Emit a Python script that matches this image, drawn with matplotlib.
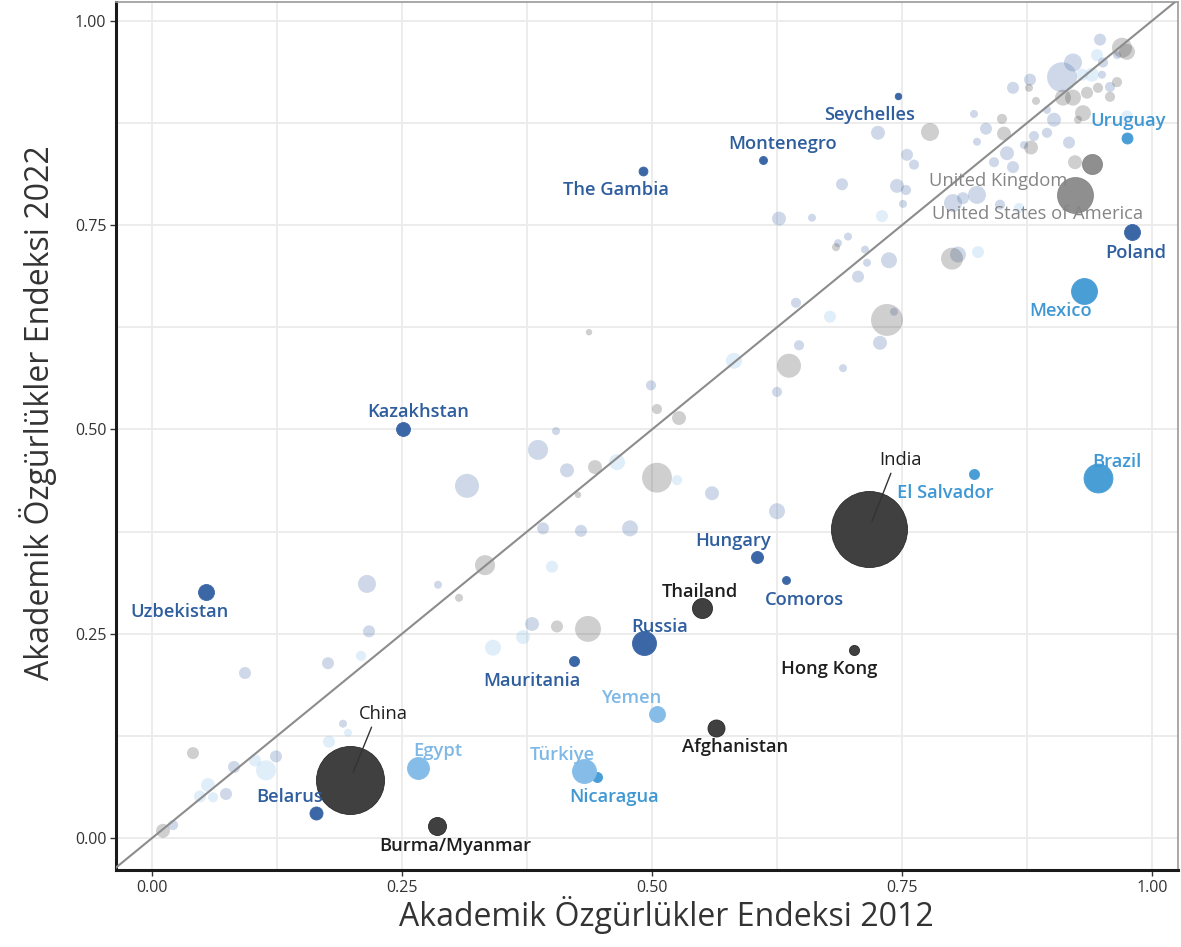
import matplotlib
matplotlib.use("Agg")
import matplotlib.pyplot as plt
import numpy as np

plt.rcParams['font.family'] = ['Open Sans', 'DejaVu Sans']

# ---------------- data ----------------
# highlighted countries: name, index 2012, index 2022, size variable, colour group
hl_names = ["Seychelles", "Montenegro", "The Gambia", "Poland", "Kazakhstan", "Uzbekistan",
            "Hungary", "Comoros", "Russia", "Mauritania", "Belarus",
            "Uruguay", "Mexico", "Brazil", "El Salvador", "Nicaragua",
            "Egypt", "Türkiye", "Yemen",
            "Thailand", "Hong Kong", "Afghanistan", "Burma/Myanmar", "China", "India",
            "United Kingdom", "United States of America"]
hl_x = [0.746, 0.611, 0.491, 0.980, 0.251, 0.054,
        0.605, 0.634, 0.492, 0.422, 0.164,
        0.975, 0.932, 0.946, 0.822, 0.445,
        0.266, 0.432, 0.505,
        0.550, 0.702, 0.564, 0.285, 0.198, 0.717,
        0.940, 0.923]
hl_y = [0.908, 0.830, 0.816, 0.742, 0.501, 0.301,
        0.344, 0.316, 0.239, 0.217, 0.031,
        0.856, 0.670, 0.441, 0.446, 0.075,
        0.086, 0.082, 0.152,
        0.282, 0.230, 0.135, 0.015, 0.071, 0.378,
        0.825, 0.787]
hl_size = [0.5, 6, 10, 56, 40, 56,
           27, 6, 140, 16, 34,
           21, 165, 208, 16, 16,
           115, 140, 56,
           94, 16, 65, 74, 1200, 1500,
           94, 327]
hl_group = ["dblue"] * 11 + ["mblue"] * 5 + ["lblue"] * 3 + ["dgray"] * 6 + ["gray"] * 2

# background (non-highlighted) countries
bg_x = [0.011, 0.021, 0.041, 0.056, 0.048, 0.061, 0.074, 0.082, 0.093, 0.103,
        0.114, 0.124, 0.176, 0.209, 0.215, 0.217, 0.191, 0.196, 0.177, 0.286,
        0.307, 0.333, 0.400, 0.380, 0.371, 0.405, 0.436, 0.341, 0.437, 0.404,
        0.386, 0.415, 0.443, 0.465, 0.315, 0.426, 0.391, 0.429, 0.478, 0.735,
        0.742, 0.678, 0.728, 0.647, 0.637, 0.691, 0.582, 0.625, 0.499, 0.505,
        0.527, 0.505, 0.525, 0.560, 0.625, 0.690, 0.627, 0.660, 0.686, 0.684,
        0.696, 0.644, 0.778, 0.726, 0.755, 0.762, 0.745, 0.754, 0.751, 0.730,
        0.822, 0.834, 0.850, 0.852, 0.879, 0.825, 0.855, 0.842, 0.861, 0.801,
        0.825, 0.811, 0.848, 0.867, 0.713, 0.737, 0.715, 0.706, 0.800, 0.806,
        0.826, 0.861, 0.877, 0.884, 0.878, 0.948, 0.970, 0.975, 0.945, 0.921,
        0.910, 0.951, 0.940, 0.930, 0.950, 0.965, 0.965, 0.958, 0.958, 0.946,
        0.935, 0.921, 0.911, 0.895, 0.931, 0.902, 0.926, 0.882, 0.895, 0.917,
        0.872, 0.923, 0.975]
bg_y = [0.009, 0.016, 0.104, 0.065, 0.051, 0.050, 0.054, 0.087, 0.202, 0.095,
        0.083, 0.100, 0.214, 0.223, 0.311, 0.253, 0.140, 0.129, 0.118, 0.310,
        0.294, 0.334, 0.332, 0.262, 0.246, 0.259, 0.256, 0.233, 0.619, 0.498,
        0.475, 0.450, 0.454, 0.460, 0.431, 0.420, 0.379, 0.376, 0.379, 0.634,
        0.644, 0.638, 0.606, 0.603, 0.578, 0.575, 0.584, 0.546, 0.554, 0.525,
        0.514, 0.441, 0.438, 0.422, 0.400, 0.800, 0.758, 0.759, 0.728, 0.723,
        0.736, 0.655, 0.864, 0.863, 0.836, 0.824, 0.798, 0.793, 0.776, 0.761,
        0.886, 0.868, 0.880, 0.862, 0.845, 0.852, 0.838, 0.827, 0.821, 0.777,
        0.787, 0.783, 0.775, 0.771, 0.720, 0.707, 0.704, 0.687, 0.709, 0.714,
        0.717, 0.918, 0.918, 0.902, 0.928, 0.977, 0.967, 0.962, 0.958, 0.949,
        0.931, 0.949, 0.934, 0.934, 0.934, 0.958, 0.925, 0.919, 0.907, 0.918,
        0.912, 0.906, 0.906, 0.891, 0.887, 0.879, 0.879, 0.859, 0.863, 0.851,
        0.848, 0.827, 0.883]
bg_size = [40, 16, 27, 40, 27, 16, 27, 27, 27, 27,
           94, 27, 27, 16, 74, 27, 6, 6, 27, 6,
           6, 94, 27, 40, 40, 27, 165, 56, 0, 6,
           94, 40, 40, 56, 140, 0, 27, 27, 56, 256,
           6, 27, 40, 16, 140, 6, 56, 16, 16, 16,
           40, 223, 16, 40, 56, 27, 40, 6, 6, 6,
           6, 16, 74, 40, 27, 16, 40, 16, 6, 27,
           6, 27, 16, 40, 40, 6, 40, 16, 27, 74,
           74, 27, 16, 16, 6, 56, 6, 27, 115, 56,
           27, 27, 6, 6, 27, 27, 94, 56, 27, 74,
           223, 16, 40, 27, 6, 6, 16, 16, 16, 16,
           27, 56, 56, 6, 56, 40, 6, 16, 16, 27,
           6, 40, 27]
bg_group = ["g", "b", "g", "l", "l", "l", "b", "b", "b", "l",
            "l", "b", "b", "l", "b", "b", "b", "l", "l", "b",
            "g", "g", "l", "b", "l", "g", "g", "l", "g", "b",
            "b", "b", "g", "l", "b", "g", "b", "b", "b", "g",
            "b", "l", "b", "b", "g", "b", "l", "b", "b", "g",
            "g", "g", "l", "b", "b", "b", "b", "b", "b", "g",
            "b", "b", "g", "b", "b", "b", "b", "b", "b", "l",
            "b", "b", "g", "g", "g", "b", "b", "b", "b", "b",
            "b", "b", "b", "l", "b", "b", "b", "b", "g", "b",
            "l", "b", "g", "g", "b", "b", "g", "g", "l", "b",
            "b", "b", "l", "l", "b", "b", "g", "b", "g", "g",
            "g", "g", "g", "b", "g", "b", "g", "b", "b", "b",
            "b", "g", "l"]

x_ticks = [0.00, 0.25, 0.50, 0.75, 1.00]
x_tick_labels = ["0.00", "0.25", "0.50", "0.75", "1.00"]
x_title = "Akademik Özgürlükler Endeksi 2012"
y_title = "Akademik Özgürlükler Endeksi 2022"

# ---------------- styles ----------------
hl_colors = {"dblue": "#3C67A6", "mblue": "#4A9ED6", "lblue": "#86BDE8",
             "dgray": "#404040", "gray": "#7C7C7C"}
hl_text_colors = {"dblue": "#2F5E9E", "mblue": "#3F98D3", "lblue": "#7DB8E6",
                  "dgray": "#1E1E1E", "gray": "#858585"}
bg_colors = {"b": ("#3C67A6", 0.25), "l": ("#86BDE8", 0.25), "g": ("#404040", 0.25)}

# label offsets in pixels (dx right, dy up) relative to the point
label_offsets = {
    "Seychelles": (-28, -19), "Montenegro": (20, 16), "The Gambia": (-27, -19),
    "Poland": (4, -21), "Kazakhstan": (15, 17), "Uzbekistan": (-26, -20),
    "Hungary": (-24, 16), "Comoros": (18, -20), "Russia": (16, 16),
    "Mauritania": (-42, -20), "Belarus": (-26, 16), "Uruguay": (1, 17),
    "Mexico": (-23, -20), "Brazil": (19, 16), "El Salvador": (-29, -19),
    "Nicaragua": (17, -20), "Egypt": (20, 17), "Türkiye": (-22, 16),
    "Yemen": (-25, 16), "Thailand": (-2, 16), "Hong Kong": (-25, -19),
    "Afghanistan": (19, -19), "Burma/Myanmar": (18, -20), "China": (33, 66),
    "India": (32, 69), "United Kingdom": (-94, -17),
    "United States of America": (-37, -19),
}
regular_labels = ["China", "India", "United Kingdom", "United States of America"]

W, H = 1181, 947
fig = plt.figure(figsize=(W / 100, H / 100), dpi=100)
ax = fig.add_axes([116 / W, 1 - 870 / H, (1178 - 116) / W, (870 - 2) / H])

xmin, xmax = -0.036, 1.026
ymin, ymax = -0.039, 1.023
ax.set_xlim(xmin, xmax)
ax.set_ylim(ymin, ymax)


def size_to_s(v):
    # area-proportional size scale: radius ~3.2 px at 0, ~38 px at 1500
    v = np.asarray(v, dtype=float)
    r2 = 3.2 ** 2 + (38.0 ** 2 - 3.2 ** 2) * v / 1500.0
    r_pt = np.sqrt(r2) * 72 / 100
    return (2 * r_pt) ** 2


# grid
for v in np.arange(0, 1.01, 0.125):
    ax.axvline(v, color="#EBEBEB", lw=1.3, zorder=0)
    ax.axhline(v, color="#EBEBEB", lw=1.3, zorder=0)

# background points
for gk, (c, a) in bg_colors.items():
    idx = [i for i, g in enumerate(bg_group) if g == gk]
    ax.scatter([bg_x[i] for i in idx], [bg_y[i] for i in idx],
               s=size_to_s([bg_size[i] for i in idx]), color=c, alpha=a,
               edgecolors="none", zorder=2)

# diagonal
ax.plot([xmin - 1, xmax + 1], [xmin - 1, xmax + 1], color="#8C8C8C", lw=1.5, zorder=3)

# highlighted points
for i, name in enumerate(hl_names):
    g = hl_group[i]
    c = hl_colors[g]
    alpha = 0.85 if g == "gray" else 1.0
    ax.scatter([hl_x[i]], [hl_y[i]], s=size_to_s([hl_size[i]]), color=c, alpha=alpha,
               edgecolors="#2a2a2a" if g == "dgray" else c, linewidths=0.6, zorder=4)

LBL_FS = 13.2
for i, name in enumerate(hl_names):
    g = hl_group[i]
    dx, dy = label_offsets[name]
    kw = dict(ha="center", va="center", fontsize=LBL_FS, color=hl_text_colors[g],
              fontweight="normal" if name in regular_labels else "semibold",
              zorder=6)
    if name in ("China", "India"):
        ax.annotate(name, (hl_x[i], hl_y[i]), xytext=(dx, dy), textcoords="offset pixels",
                    arrowprops=dict(arrowstyle="-", color="#333333", lw=1.0,
                                    shrinkA=1, shrinkB=6, relpos=(0.3, 0.0)), **kw)
    else:
        ax.annotate(name, (hl_x[i], hl_y[i]), xytext=(dx, dy), textcoords="offset pixels", **kw)

# axes styling
ax.set_xticks(x_ticks)
ax.set_xticklabels(x_tick_labels)
ax.set_yticks(x_ticks)
ax.set_yticklabels(x_tick_labels)
ax.tick_params(axis="both", length=4, width=1, color="#333333", labelsize=11.5,
               labelcolor="#333333", pad=3)
for side in ("left", "bottom"):
    ax.spines[side].set_color("#1a1a1a")
    ax.spines[side].set_linewidth(2.2)
for side in ("top", "right"):
    ax.spines[side].set_color("#9a9a9a")
    ax.spines[side].set_linewidth(1.2)

fig.text(666 / W, 1 - 926 / H, x_title, ha="center", va="baseline", fontsize=23,
         color="#333333")
fig.text(38 / W, 1 - 413 / H, y_title, ha="center", va="center", fontsize=23,
         color="#333333", rotation=90)

fig.savefig("out.png", dpi=100)
